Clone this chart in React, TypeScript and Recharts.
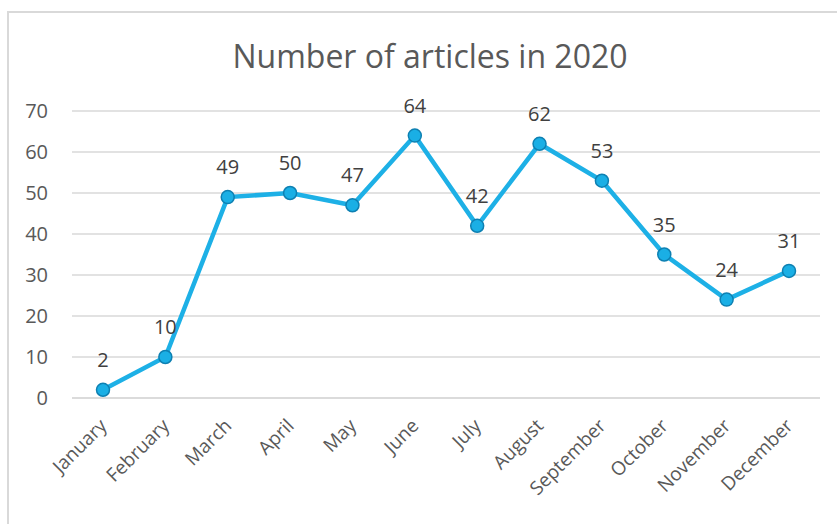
import React from "react";
import { LineChart, Line, XAxis, YAxis, CartesianGrid, LabelList } from "recharts";

const months = ["January", "February", "March", "April", "May", "June", "July", "August", "September", "October", "November", "December"];
const articles = [2, 10, 49, 50, 47, 64, 42, 62, 53, 35, 24, 31];
const yTicks = [0, 10, 20, 30, 40, 50, 60, 70];
const title = "Number of articles in 2020";

const data = months.map((m, i) => ({ month: m, value: articles[i] }));

const FONT = "'Open Sans', sans-serif";

const MonthTick = (props: any) => {
  const { x, y, payload } = props;
  const tx = x + 5;
  const ty = y + 21;
  return (
    <text
      x={tx}
      y={ty}
      transform={`rotate(-45, ${tx}, ${ty})`}
      textAnchor="end"
      fill="#595959"
      fontSize={19}
      fontFamily={FONT}
    >
      {payload.value}
    </text>
  );
};

export default function App() {
  return (
    <div style={{ position: "absolute", left: 0, top: 0, width: 837, height: 524, background: "#fff", overflow: "hidden" }}>
      <div
        style={{
          position: "absolute",
          left: 7,
          top: 11,
          width: 900,
          height: 600,
          borderLeft: "2px solid #D9D9D9",
          borderTop: "2px solid #D9D9D9",
        }}
      />
      <div
        style={{
          position: "absolute",
          left: 0,
          top: 34,
          width: 860,
          textAlign: "center",
          fontFamily: FONT,
          fontSize: 32,
          color: "#595959",
          lineHeight: "44px",
        }}
      >
        {title}
      </div>
      <div style={{ position: "absolute", left: 0, top: 0 }}>
        <LineChart width={837} height={524} data={data} margin={{ top: 111, right: 17, left: 0, bottom: 0 }}>
          <CartesianGrid vertical={false} stroke="#D9D9D9" strokeWidth={1.5} />
          <XAxis
            dataKey="month"
            axisLine={{ stroke: "#D9D9D9", strokeWidth: 1.5 }}
            tickLine={false}
            tick={<MonthTick />}
            interval={0}
            height={126}
            padding={{ left: 31, right: 31 }}
          />
          <YAxis
            domain={[0, 70]}
            ticks={yTicks}
            width={72}
            axisLine={false}
            tickLine={false}
            tickMargin={18}
            tick={{ fill: "#595959", fontSize: 20, fontFamily: FONT }}
          />
          <Line
            type="linear"
            dataKey="value"
            stroke="#1DB0E6"
            strokeWidth={4.5}
            dot={{ r: 6.5, fill: "#1AAFE5", stroke: "#0E80B2", strokeWidth: 1.5 }}
            isAnimationActive={false}
          >
            <LabelList dataKey="value" position="top" offset={23} fill="#404040" fontSize={20} fontFamily={FONT} />
          </Line>
        </LineChart>
      </div>
    </div>
  );
}
